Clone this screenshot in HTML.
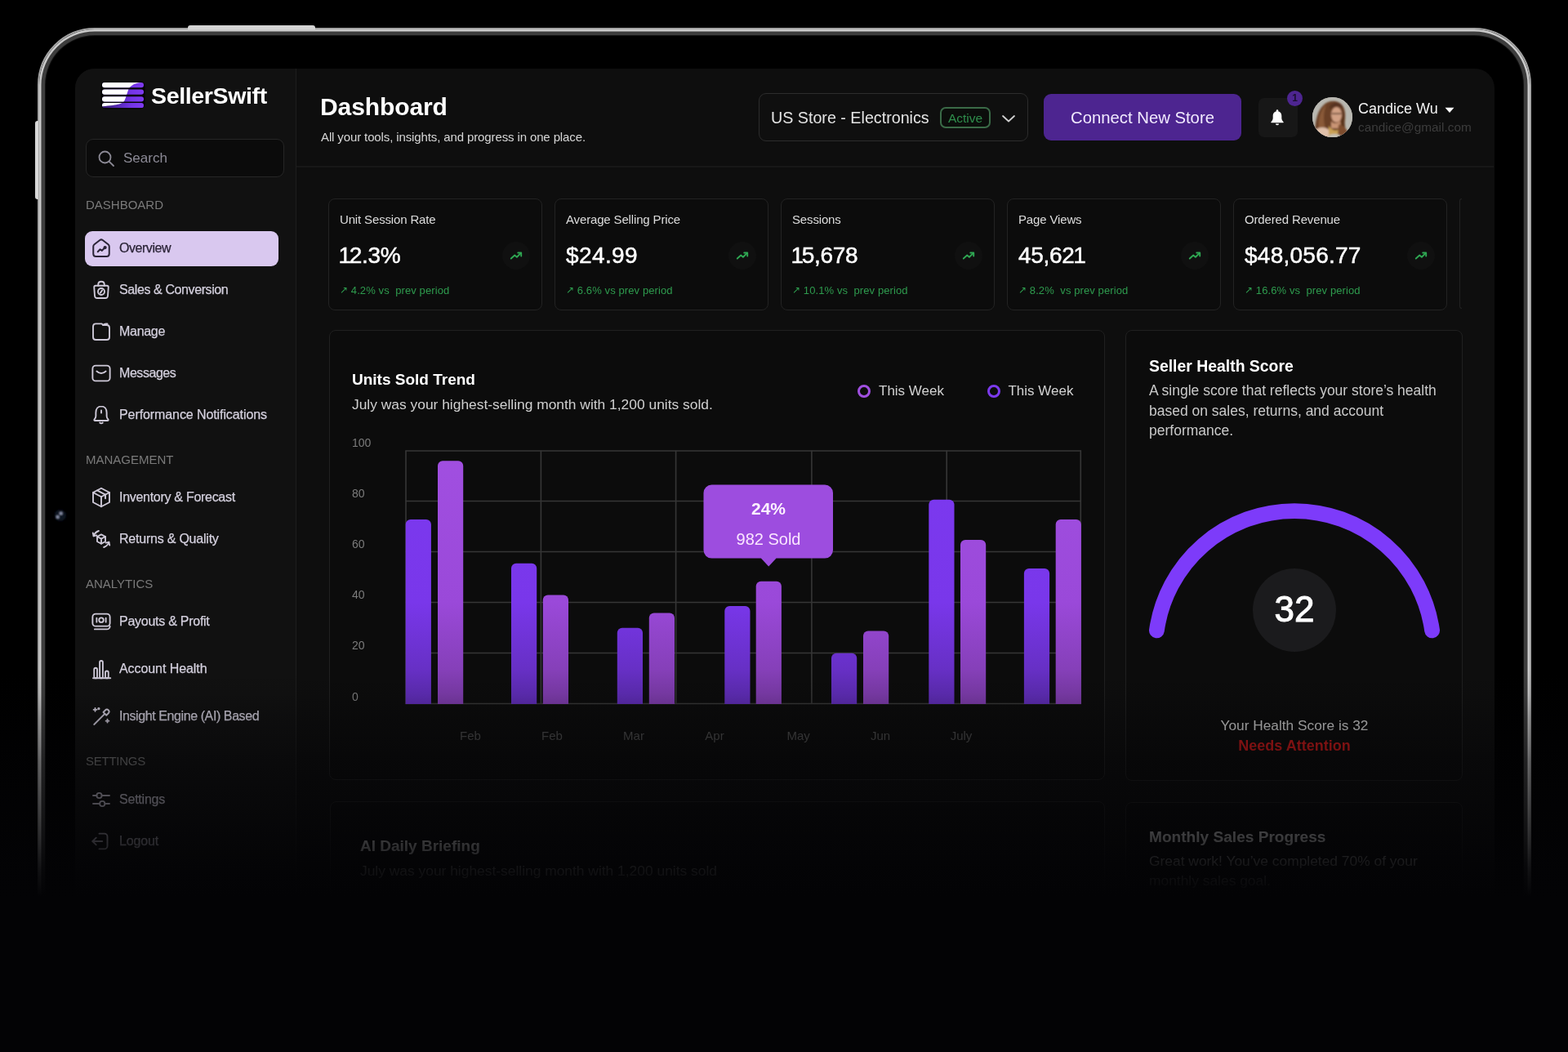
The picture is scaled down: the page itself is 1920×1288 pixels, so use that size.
<!DOCTYPE html>
<html>
<head>
<meta charset="utf-8">
<style>
*{box-sizing:border-box;margin:0;padding:0}
html,body{width:1920px;height:1288px;background:#000;overflow:hidden}
body{position:relative;font-family:"Liberation Sans",Arial,sans-serif;color:#fff}
.abs{position:absolute}
.frame{position:absolute;left:46px;top:34px;width:1829px;height:1240px;border-radius:70px;border:2px solid #a4a4a4;background:#000;box-shadow:inset 0 0 0 2.5px #cbcbcb,inset 0 0 0 7px #3d3d3d,inset 0 0 1px 8px #151515}
.btn-top{position:absolute;left:230px;top:31px;width:156px;height:5px;border-radius:3px 3px 0 0;background:#d4d4d4}
.btn-side{position:absolute;left:43px;top:148px;width:4px;height:96px;border-radius:3px 0 0 3px;background:#d8d8d8}
.screen{position:absolute;left:92px;top:84px;width:1738px;height:1120px;border-radius:24px;background:#0e0e0e;overflow:hidden}
.side{position:absolute;left:0;top:0;width:271px;height:100%;background:#111;border-right:1.5px solid #1d1d1d}
.fade{position:absolute;left:0;top:0;width:1920px;height:1288px;background:linear-gradient(180deg,rgba(3,3,5,0) 0px,rgba(3,3,5,0) 820px,rgba(3,3,5,0.08) 850px,rgba(3,3,5,0.25) 880px,rgba(3,3,5,0.39) 913px,rgba(3,3,5,0.49) 932px,rgba(3,3,5,0.64) 980px,rgba(3,3,5,0.8) 1030px,rgba(3,3,5,0.875) 1050px,rgba(3,3,5,0.925) 1065px,rgba(3,3,5,0.97) 1085px,rgba(3,3,5,1) 1098px,rgba(3,3,5,1) 1288px)}
.logo{position:absolute;left:125px;top:101px;width:51px;height:31px}
.brand{position:absolute;left:185px;top:100px;font-size:28.5px;font-weight:700;line-height:34px;letter-spacing:-0.35px;color:#fff}
.search{position:absolute;left:105px;top:170px;width:243px;height:47px;border:1.5px solid #262626;border-radius:9px;background:#0b0b0b}
.search svg{position:absolute;left:12px;top:11px}
.search span{position:absolute;left:45px;top:12.2px;font-size:17px;line-height:22px;color:#8c8a96}
.sec{position:absolute;left:105px;margin-top:0.8px;font-size:15px;line-height:18px;color:#7a7a7a;letter-spacing:0}
.nav{position:absolute;left:104px;width:237px;height:43px;border-radius:9px}
.nav.act{background:#d9c8ef}
.nav svg{position:absolute;left:5px;top:6.5px;width:30px;height:30px}
.nav span{position:absolute;left:42px;top:11.5px;font-size:16px;line-height:20px;color:#d4d0de;white-space:nowrap;-webkit-text-stroke:0.25px #d4d0de}
.nav.act span{color:#2a2336;-webkit-text-stroke:0.25px #2a2336}
.hline{position:absolute;left:363px;top:203px;width:1466px;height:1.5px;background:#171717}
.h1{position:absolute;left:392px;top:113px;font-size:30px;font-weight:700;line-height:36px;letter-spacing:-0.1px;color:#fff}
.h1sub{position:absolute;left:393px;top:157.7px;font-size:15px;line-height:20px;color:#d6d6d6;letter-spacing:-0.12px}
.store{position:absolute;left:929px;top:114px;width:330px;height:59px;border:1.5px solid #2c2c2c;border-radius:9px;background:#0f0f0f}
.store .t{position:absolute;left:14px;top:17px;font-size:19.7px;line-height:24px;color:#e4e4e4}
.badge{position:absolute;left:221px;top:15.5px;width:62px;height:26.5px;border:2px solid #3a6a47;border-radius:7px;background:#0b0d0b;color:#2f8e4c;font-size:15.5px;line-height:23px;text-align:center}
.store svg{position:absolute;left:295px;top:20px}
.cta{position:absolute;left:1278px;top:115px;width:242px;height:57px;border-radius:9px;background:#4d2590;color:#f1eaff;font-size:20.3px;line-height:59px;text-align:center}
.bellbox{position:absolute;left:1540.5px;top:119.5px;width:48px;height:48px;border-radius:7px;background:#171717}
.bellbox svg{position:absolute;left:12px;top:12px}
.bdg{position:absolute;left:1576px;top:111px;width:19px;height:19px;border-radius:50%;background:#4d2590;color:#1a0f2e;font-size:12px;font-weight:700;line-height:19px;text-align:center}
.avatar{position:absolute;left:1607px;top:119px;width:49px;height:49px;border-radius:50%;overflow:hidden;background:#b8b4ae}
.uname{position:absolute;left:1663px;top:120.5px;font-size:18px;line-height:24px;color:#f2f2f2}
.uname svg{position:absolute;left:106px;top:10px}
.umail{position:absolute;left:1663px;top:146.5px;font-size:15.4px;line-height:18px;color:#3c3c3c}
.kpi{position:absolute;top:243px;width:262px;height:136.5px;border:1.5px solid #232323;border-radius:8px;background:#0c0c0c}
.kpi .k1{position:absolute;left:13px;top:15.5px;letter-spacing:-0.15px;font-size:15px;line-height:18px;color:#dcdcdc;white-space:nowrap}
.kpi .k2{position:absolute;left:13px;top:53.4px;font-size:28px;line-height:32px;color:#fff;white-space:nowrap;-webkit-text-stroke:0.5px #fff;letter-spacing:-0.3px}
.kpi .k3{position:absolute;left:13px;top:102.5px;letter-spacing:0.1px;font-size:13px;line-height:18px;color:#2e9b4e;white-space:nowrap}
.kpi .ti{position:absolute;left:212px;top:52px;width:34px;height:34px;border-radius:50%;background:#101010}
.kpi .ti svg{position:absolute;left:9px;top:9px}
.card{position:absolute;border:1.5px solid #202020;border-radius:8px;background:#0c0c0c}
.one{display:inline-block;margin:0 -2.2px 0 -1.4px}
.ct{position:absolute;font-size:19px;font-weight:700;line-height:24px;color:#fff;white-space:nowrap}
.cs{position:absolute;font-size:17.4px;line-height:22px;color:#d0d0d0;white-space:nowrap}
.lg{position:absolute;top:467.8px;font-size:17px;line-height:22px;color:#d2d2d2}
.ring{position:absolute;width:16px;height:16px;border-radius:50%;border:3.6px solid #a04fe0;top:470.8px}
.yl{position:absolute;left:431px;font-size:14px;line-height:18px;color:#7c7c7c}
.xl{position:absolute;top:891px;font-size:15px;line-height:20px;color:#4c4c4c;width:60px;text-align:center}
</style>
</head>
<body>
<div class="frame"></div>
<div class="btn-top"></div>
<div class="btn-side"></div>
<svg class="abs" style="left:60px;top:617px" width="28" height="28" viewBox="0 0 28 28"><defs><filter id="cb" x="-50%" y="-50%" width="200%" height="200%"><feGaussianBlur stdDeviation="0.8"/></filter></defs><g filter="url(#cb)"><circle cx="13.8" cy="14" r="7" fill="#0d1322"/><circle cx="14.6" cy="11.6" r="1.7" fill="#a3abc6"/><circle cx="10.6" cy="16" r="1.7" fill="#a3abc6"/></g></svg>
<div class="screen"><div class="side"></div></div>
<svg class="logo" viewBox="-2 -2 55 35" style="left:123px;top:99px;width:55px;height:35px">
 <defs><clipPath id="lc"><rect x="0" y="0" width="51" height="6.2" rx="3"/><rect x="0" y="8.4" width="51" height="6.4" rx="3"/><rect x="0" y="17.2" width="51" height="6.2" rx="3"/><rect x="0" y="25" width="51" height="6.2" rx="3"/></clipPath>
 <linearGradient id="lg" x1="0" y1="0" x2="1" y2="0"><stop offset="0" stop-color="#341a70"/><stop offset=".45" stop-color="#5b2ac0"/><stop offset=".7" stop-color="#7434e6"/><stop offset="1" stop-color="#7f3bf2"/></linearGradient></defs>
 <rect x="-1.5" y="-1.5" width="54" height="34" rx="6" fill="#050505"/>
 <g clip-path="url(#lc)"><rect width="51" height="31.2" fill="url(#lg)"/>
 <path d="M0 0 H48 C41 0.5 35.5 3 32.5 8 C30.5 13 29.5 18 27.5 22 C25.5 26 21 27.5 0 29.2 Z" fill="#fff"/></g>
</svg>
<div class="brand">SellerSwift</div>
<div class="search"><svg width="24" height="24" viewBox="0 0 24 24" fill="none" stroke="#8c8a96" stroke-width="1.8" stroke-linecap="round"><circle cx="10.5" cy="10.5" r="7"/><path d="M15.8 15.8 L21 21"/></svg><span>Search</span></div>
<div class="sec" style="top:241px">DASHBOARD</div>
<div class="nav act" style="top:282.5px"><svg viewBox="0 0 24 24" fill="none" stroke="#2a2336" stroke-width="1.6" stroke-linecap="round" stroke-linejoin="round"><path d="M4.2 10.2 Q4.2 9 5.2 8.2 L10.6 4 Q12 3 13.4 4 L18.8 8.2 Q19.8 9 19.8 10.2 V17.4 Q19.8 20 17.2 20 H6.8 Q4.2 20 4.2 17.4 Z"/><path d="M8.6 15.4 L10.9 13 L12.7 14.3 L15 11.8"/><circle cx="15.7" cy="11.2" r="0.9" fill="#2a2336"/></svg><span style="letter-spacing:-0.45px">Overview</span></div>
<div class="nav" style="top:333.5px"><svg viewBox="0 0 24 24" fill="none" stroke="#cfcad9" stroke-width="1.5" stroke-linecap="round" stroke-linejoin="round"><path d="M5 9.3 Q5 7.8 6.5 7.8 H17.5 Q19 7.8 19 9.3 L18.4 17.8 Q18.2 20 16 20 H8 Q5.8 20 5.6 17.8 Z"/><path d="M9 7.8 V6.6 Q9 3.8 12 3.8 Q15 3.8 15 6.6 V7.8"/><circle cx="12" cy="13.6" r="3.2"/><path d="M12.9 12.3 L11.1 14.9"/></svg><span style="letter-spacing:-0.4px">Sales &amp; Conversion</span></div>
<div class="nav" style="top:384.5px"><svg viewBox="0 0 24 24" fill="none" stroke="#cfcad9" stroke-width="1.5" stroke-linecap="round" stroke-linejoin="round"><path d="M4 7 Q4 4.3 6.7 4.3 H12.5 L13.8 5.6 H17.3 Q20 5.6 20 8.3 V17.3 Q20 20 17.3 20 H6.7 Q4 20 4 17.3 Z"/><path d="M13.8 5.6 Q15 4.3 16.5 4.3 H18"/></svg><span style="letter-spacing:-0.3px">Manage</span></div>
<div class="nav" style="top:435.5px"><svg viewBox="0 0 24 24" fill="none" stroke="#cfcad9" stroke-width="1.5" stroke-linecap="round" stroke-linejoin="round"><rect x="3.5" y="4.5" width="17" height="15" rx="3"/><path d="M7.5 10 q4.5 4 9 0"/></svg><span style="letter-spacing:-0.45px">Messages</span></div>
<div class="nav" style="top:486.5px"><svg viewBox="0 0 24 24" fill="none" stroke="#cfcad9" stroke-width="1.5" stroke-linecap="round" stroke-linejoin="round"><path d="M12 3.5 C8.7 3.5 6.7 6.3 6.7 9.8 V13.2 Q6.7 14.8 5.3 16.3 Q4.6 17.6 6 17.6 H18 Q19.4 17.6 18.7 16.3 Q17.3 14.8 17.3 13.2 V9.8 C17.3 6.3 15.3 3.5 12 3.5 Z"/><path d="M10.6 19.6 Q12 21 13.4 19.6"/><path d="M12 7.5 V10"/></svg><span style="letter-spacing:-0.09px">Performance Notifications</span></div>
<div class="sec" style="top:553px">MANAGEMENT</div>
<div class="nav" style="top:587.5px"><svg viewBox="0 0 24 24" fill="none" stroke="#cfcad9" stroke-width="1.5" stroke-linecap="round" stroke-linejoin="round"><path d="M12 3 L20 7.2 V16.8 L12 21 L4 16.8 V7.2 Z"/><path d="M4 7.2 L12 11.4 L20 7.2"/><path d="M12 11.4 V21"/><path d="M8 5.1 L16 9.3 V13"/></svg><span style="letter-spacing:-0.29px">Inventory &amp; Forecast</span></div>
<div class="nav" style="top:638.5px"><svg viewBox="0 0 24 24" fill="none" stroke="#cfcad9" stroke-width="1.5" stroke-linecap="round" stroke-linejoin="round"><path d="M12 7.5 L16 9.6 V14.4 L12 16.5 L8 14.4 V9.6 Z"/><path d="M8 9.6 L12 11.7 L16 9.6 M12 11.7 V16.5"/><path d="M4.5 9 a8 8 0 0 1 5-5"/><path d="M19.5 15 a8 8 0 0 1 -5 5"/><path d="M3.8 6 l0.7 3 3-0.7"/><path d="M20.2 18 l-0.7-3 -3 0.7"/></svg><span style="letter-spacing:-0.22px">Returns &amp; Quality</span></div>
<div class="sec" style="top:705px">ANALYTICS</div>
<div class="nav" style="top:739.5px"><svg viewBox="0 0 24 24" fill="none" stroke="#cfcad9" stroke-width="1.5" stroke-linecap="round" stroke-linejoin="round"><rect x="3.5" y="4.5" width="17" height="12" rx="3"/><path d="M5.5 19.5 h12 a3 3 0 0 0 3-3"/><circle cx="12" cy="10.5" r="2.2"/><path d="M7.5 8.5 v4 M16.5 8.5 v4"/></svg><span style="letter-spacing:-0.26px">Payouts &amp; Profit</span></div>
<div class="nav" style="top:797.5px"><svg viewBox="0 0 24 24" fill="none" stroke="#cfcad9" stroke-width="1.5" stroke-linecap="round" stroke-linejoin="round"><path d="M4 21 h17"/><rect x="5" y="11" width="3" height="10" rx="1.5"/><rect x="10.5" y="4" width="3" height="17" rx="1.5"/><rect x="16" y="14" width="3" height="7" rx="1.5"/></svg><span style="letter-spacing:-0.07px">Account Health</span></div>
<div class="nav" style="top:855.5px"><svg viewBox="0 0 24 24" fill="none" stroke="#cfcad9" stroke-width="1.5" stroke-linecap="round" stroke-linejoin="round"><path d="M5 20 L15.5 9.5"/><path d="M14 8 l3 3 2-2 a1.5 1.5 0 0 0 -3-3 Z"/><path d="M6 4 v3 M4.5 5.5 h3"/><path d="M18 15 v3 M16.5 16.5 h3"/><circle cx="9.5" cy="4.5" r="0.6"/></svg><span style="letter-spacing:-0.41px">Insight Engine (AI) Based</span></div>
<div class="sec" style="top:922px;letter-spacing:-0.25px">SETTINGS</div>
<div class="nav" style="top:957.5px"><svg viewBox="0 0 24 24" fill="none" stroke="#cfcad9" stroke-width="1.5" stroke-linecap="round" stroke-linejoin="round"><path d="M4 8 h3.5 M12.5 8 H20"/><circle cx="10" cy="8" r="2.5"/><path d="M4 16 h6.5 M15.5 16 H20"/><circle cx="13" cy="16" r="2.5"/></svg><span style="letter-spacing:-0.22px">Settings</span></div>
<div class="nav" style="top:1008.5px"><svg viewBox="0 0 24 24" fill="none" stroke="#cfcad9" stroke-width="1.5" stroke-linecap="round" stroke-linejoin="round"><path d="M10 4.5 h5 a3 3 0 0 1 3 3 v9 a3 3 0 0 1 -3 3 h-5"/><path d="M3.5 12 H13"/><path d="M7 8.5 L3.5 12 L7 15.5"/></svg><span style="letter-spacing:-0.15px">Logout</span></div>
<div class="hline"></div>
<div class="h1">Dashboard</div>
<div class="h1sub">All your tools, insights, and progress in one place.</div>
<div class="store"><div class="t">US Store - Electronics</div><div class="badge">Active</div>
<svg width="20" height="20" viewBox="0 0 20 20" fill="none" stroke="#cfcfcf" stroke-width="1.8" stroke-linecap="round" stroke-linejoin="round"><path d="M3 7 L10 13.5 L17 7"/></svg></div>
<div class="cta">Connect New Store</div>
<div class="bellbox"><svg width="24" height="24" viewBox="0 0 24 24" style="left:11.2px"><circle cx="12" cy="3.6" r="1.3" fill="#fff"/><path d="M12 4.3 C8.4 4.3 6.7 6.9 6.7 10 V12.6 C6.7 14.6 5.5 16.2 4.3 17.6 Q4 18.3 4.8 18.3 H19.2 Q20 18.3 19.7 17.6 C18.5 16.2 17.3 14.6 17.3 12.6 V10 C17.3 6.9 15.6 4.3 12 4.3 Z" fill="#fff"/><path d="M10 19.4 a2 1.9 0 0 0 4 0 Z" fill="#fff"/></svg></div>
<div class="bdg">1</div>
<div class="avatar"><svg width="49" height="49" viewBox="0 0 49 49">
<defs><filter id="bl" x="-20%" y="-20%" width="140%" height="140%"><feGaussianBlur stdDeviation="1.2"/></filter></defs>
<rect width="49" height="49" fill="#b9b8b1"/>
<g filter="url(#bl)">
<path d="M4 49 C2 32 6 12 19 6 C30 2 39 8 40 19 C41 27 38 33 41 39 L45 49 Z" fill="#6a4026"/>
<path d="M8 42 C6 28 10 15 17 9 C13 20 13 30 17 42 Z" fill="#8a5a38"/>
<path d="M36 14 C40 20 38 30 40 36 L35 34 Z" fill="#5a341e"/>
<ellipse cx="29.5" cy="21.5" rx="6.5" ry="9.5" fill="#d2a084"/>
<path d="M22 15 C24 10 33 9 37 14 L37 11 C33 5 24 6 21 12 Z" fill="#553320"/>
<rect x="23.5" y="19.5" width="12" height="1.6" rx="0.8" fill="#5a3c2c"/>
<path d="M23 29 C25 33 31 33 34 29 L35 38 L23 38 Z" fill="#c99474"/>
<ellipse cx="12" cy="44" rx="10" ry="7" fill="#e0c0aa"/>
<path d="M20 35 C24 41 30 43 34 37 L33 49 L20 49 Z" fill="#c9a055"/>
<path d="M32 33 C38 35 44 40 46 49 L31 49 Z" fill="#7e4e2e"/>
<ellipse cx="27" cy="47.5" rx="7" ry="2.5" fill="#c4c0b4"/>
</g>
</svg></div>
<div class="uname">Candice Wu<svg width="12" height="8" viewBox="0 0 12 8"><path d="M0.5 0.8 H11.5 L6 7 Z" fill="#fff"/></svg></div>
<div class="umail">candice@gmail.com</div>
<div class="kpi" style="left:402px"><div class="k1">Unit Session Rate</div><div class="k2"><span class="one">1</span>2.3%</div><div class="k3"><span style="font-size:12px;position:relative;top:-1px">&#8599;</span> 4.2% vs&nbsp; prev period</div><div class="ti"><svg width="16" height="16" viewBox="0 0 18 18" fill="none" stroke="#2fa853" stroke-width="2.1" stroke-linecap="round" stroke-linejoin="round"><path d="M2 13 L7 8.5 L10 11 L15.5 5.5"/><path d="M11.5 5 H16 V9.5"/></svg></div></div>
<div class="kpi" style="left:679px"><div class="k1">Average Selling Price</div><div class="k2"><span style="letter-spacing:0.4px">$24.99</span></div><div class="k3"><span style="font-size:12px;position:relative;top:-1px">&#8599;</span> 6.6% vs prev period</div><div class="ti"><svg width="16" height="16" viewBox="0 0 18 18" fill="none" stroke="#2fa853" stroke-width="2.1" stroke-linecap="round" stroke-linejoin="round"><path d="M2 13 L7 8.5 L10 11 L15.5 5.5"/><path d="M11.5 5 H16 V9.5"/></svg></div></div>
<div class="kpi" style="left:956px"><div class="k1">Sessions</div><div class="k2"><span class="one">1</span>5,678</div><div class="k3"><span style="font-size:12px;position:relative;top:-1px">&#8599;</span> 10.1% vs&nbsp; prev period</div><div class="ti"><svg width="16" height="16" viewBox="0 0 18 18" fill="none" stroke="#2fa853" stroke-width="2.1" stroke-linecap="round" stroke-linejoin="round"><path d="M2 13 L7 8.5 L10 11 L15.5 5.5"/><path d="M11.5 5 H16 V9.5"/></svg></div></div>
<div class="kpi" style="left:1233px"><div class="k1">Page Views</div><div class="k2">45,62<span class="one">1</span></div><div class="k3"><span style="font-size:12px;position:relative;top:-1px">&#8599;</span> 8.2% &nbsp;vs prev period</div><div class="ti"><svg width="16" height="16" viewBox="0 0 18 18" fill="none" stroke="#2fa853" stroke-width="2.1" stroke-linecap="round" stroke-linejoin="round"><path d="M2 13 L7 8.5 L10 11 L15.5 5.5"/><path d="M11.5 5 H16 V9.5"/></svg></div></div>
<div class="kpi" style="left:1510px"><div class="k1">Ordered Revenue</div><div class="k2"><span style="letter-spacing:0.25px">$48,056.77</span></div><div class="k3"><span style="font-size:12px;position:relative;top:-1px">&#8599;</span> 16.6% vs&nbsp; prev period</div><div class="ti"><svg width="16" height="16" viewBox="0 0 18 18" fill="none" stroke="#2fa853" stroke-width="2.1" stroke-linecap="round" stroke-linejoin="round"><path d="M2 13 L7 8.5 L10 11 L15.5 5.5"/><path d="M11.5 5 H16 V9.5"/></svg></div></div>
<div style="position:absolute;left:1787px;top:243px;width:3px;height:135px;border:1.5px solid #222;border-right:none;border-radius:10px 0 0 10px"></div>
<div class="card" style="left:403px;top:404px;width:950px;height:551px"></div>
<div class="card" style="left:1378px;top:404px;width:413px;height:552px"></div>
<div class="card" style="left:404px;top:981px;width:949px;height:200px"></div>
<div class="card" style="left:1378px;top:982px;width:413px;height:200px"></div>
<svg class="abs" style="left:0;top:0" width="1920" height="1288" viewBox="0 0 1920 1288">
<defs><linearGradient id="ga" x1="0" y1="552" x2="0" y2="862" gradientUnits="userSpaceOnUse"><stop offset="0" stop-color="#7c39f0"/><stop offset="0.6" stop-color="#7937ea"/><stop offset="1" stop-color="#5d2cb2"/></linearGradient>
<linearGradient id="gb" x1="0" y1="552" x2="0" y2="862" gradientUnits="userSpaceOnUse"><stop offset="0" stop-color="#a14fe1"/><stop offset="0.6" stop-color="#9a49d9"/><stop offset="1" stop-color="#7b3ba8"/></linearGradient></defs>
<line x1="496.5" y1="552" x2="1324" y2="552" stroke="#363636" stroke-width="1.6"/>
<line x1="496.5" y1="613.5" x2="1324" y2="613.5" stroke="#363636" stroke-width="1.6"/>
<line x1="496.5" y1="675.5" x2="1324" y2="675.5" stroke="#363636" stroke-width="1.6"/>
<line x1="496.5" y1="737.5" x2="1324" y2="737.5" stroke="#363636" stroke-width="1.6"/>
<line x1="496.5" y1="799.5" x2="1324" y2="799.5" stroke="#363636" stroke-width="1.6"/>
<line x1="496.5" y1="861.5" x2="1324" y2="861.5" stroke="#363636" stroke-width="1.6"/>
<line x1="497" y1="551.5" x2="497" y2="862" stroke="#363636" stroke-width="1.6"/>
<line x1="662.4" y1="551.5" x2="662.4" y2="862" stroke="#363636" stroke-width="1.6"/>
<line x1="827.6" y1="551.5" x2="827.6" y2="862" stroke="#363636" stroke-width="1.6"/>
<line x1="993.9" y1="551.5" x2="993.9" y2="862" stroke="#363636" stroke-width="1.6"/>
<line x1="1159.2" y1="551.5" x2="1159.2" y2="862" stroke="#363636" stroke-width="1.6"/>
<line x1="1323.3" y1="551.5" x2="1323.3" y2="862" stroke="#363636" stroke-width="1.6"/>
<path d="M496.7 862 V642 a6 6 0 0 1 6 -6 H521.9 a6 6 0 0 1 6 6 V862 Z" fill="url(#ga)"/>
<path d="M536 862 V570.2 a6 6 0 0 1 6 -6 H561.2 a6 6 0 0 1 6 6 V862 Z" fill="url(#gb)"/>
<path d="M626 862 V695.7 a6 6 0 0 1 6 -6 H651.2 a6 6 0 0 1 6 6 V862 Z" fill="url(#ga)"/>
<path d="M664.8 862 V734.5 a6 6 0 0 1 6 -6 H690.0 a6 6 0 0 1 6 6 V862 Z" fill="url(#gb)"/>
<path d="M755.8 862 V774.8 a6 6 0 0 1 6 -6 H781.0 a6 6 0 0 1 6 6 V862 Z" fill="url(#ga)"/>
<path d="M794.8 862 V756.6 a6 6 0 0 1 6 -6 H820.0 a6 6 0 0 1 6 6 V862 Z" fill="url(#gb)"/>
<path d="M887.3 862 V748 a6 6 0 0 1 6 -6 H912.5 a6 6 0 0 1 6 6 V862 Z" fill="url(#ga)"/>
<path d="M925.7 862 V717.7 a6 6 0 0 1 6 -6 H950.9 a6 6 0 0 1 6 6 V862 Z" fill="url(#gb)"/>
<path d="M1018 862 V805.7 a6 6 0 0 1 6 -6 H1043.2 a6 6 0 0 1 6 6 V862 Z" fill="url(#ga)"/>
<path d="M1057 862 V778.4 a6 6 0 0 1 6 -6 H1082.2 a6 6 0 0 1 6 6 V862 Z" fill="url(#gb)"/>
<path d="M1137.3 862 V617.8 a6 6 0 0 1 6 -6 H1162.5 a6 6 0 0 1 6 6 V862 Z" fill="url(#ga)"/>
<path d="M1176 862 V667 a6 6 0 0 1 6 -6 H1201.2 a6 6 0 0 1 6 6 V862 Z" fill="url(#gb)"/>
<path d="M1253.9 862 V702 a6 6 0 0 1 6 -6 H1279.1 a6 6 0 0 1 6 6 V862 Z" fill="url(#ga)"/>
<path d="M1292.7 862 V642 a6 6 0 0 1 6 -6 H1317.9 a6 6 0 0 1 6 6 V862 Z" fill="url(#gb)"/>
<path d="M871.5 593.6 H1010 a10 10 0 0 1 10 10 V673.6 a10 10 0 0 1 -10 10 H950.5 L941.2 693.6 L931.9 683.6 H871.5 a10 10 0 0 1 -10 -10 V603.6 a10 10 0 0 1 10 -10 Z" fill="#9d4ddf"/>
<path d="M1416.4 771.9 A170.3 170.3 0 0 1 1753.6 771.9" fill="none" stroke="#7d3bfa" stroke-width="18.8" stroke-linecap="round"/>
<circle cx="1585" cy="747" r="51" fill="#1b1b1d"/>
</svg>
<div class="ct" style="left:431px;top:453px">Units Sold Trend</div>
<div class="cs" style="left:431px;top:484px">July was your highest-selling month with 1,200 units sold.</div>
<div class="ring" style="left:1050.3px"></div><div class="lg" style="left:1076px">This Week</div>
<div class="ring" style="left:1208.7px;border-color:#7c3aed"></div><div class="lg" style="left:1234.4px">This Week</div>
<div class="yl" style="top:533.3px">100</div>
<div class="yl" style="top:595px">80</div>
<div class="yl" style="top:657px">60</div>
<div class="yl" style="top:719px">40</div>
<div class="yl" style="top:781px">20</div>
<div class="yl" style="top:843.7px">0</div>
<div class="xl" style="left:546px">Feb</div><div class="xl" style="left:646px">Feb</div><div class="xl" style="left:746px">Mar</div><div class="xl" style="left:845px">Apr</div><div class="xl" style="left:947.6px">May</div><div class="xl" style="left:1048px">Jun</div><div class="xl" style="left:1147px">July</div>
<div style="position:absolute;left:861.5px;top:608.5px;width:159px;text-align:center;font-size:21px;font-weight:700;line-height:28px;color:#fdf0ff">24%</div>
<div style="position:absolute;left:861.5px;top:645.5px;width:159px;text-align:center;font-size:20px;line-height:28px;color:#fbe6ff">982 Sold</div>
<div class="ct" style="left:1407px;top:436px;font-size:19.4px">Seller Health Score</div>
<div class="cs" style="left:1407px;top:466.3px;font-size:17.5px;line-height:24.5px;color:#cacaca;white-space:normal;width:370px">A single score that reflects your store’s health based on sales, returns, and account performance.</div>
<div style="position:absolute;left:1535px;top:721px;width:100px;text-align:center;font-size:44px;line-height:50px;color:#fff;-webkit-text-stroke:1px #fff">32</div>
<div style="position:absolute;left:1435px;top:876.5px;width:300px;text-align:center;font-size:17.3px;line-height:22px;color:#d0d0d0">Your Health Score is 32</div>
<div style="position:absolute;left:1435px;top:902.3px;width:300px;text-align:center;font-size:18px;font-weight:700;line-height:22px;color:#c81a1a">Needs Attention</div>
<div class="ct" style="left:441px;top:1023.7px;font-size:19px">AI Daily Briefing</div>
<div class="cs" style="left:441px;top:1054.5px;font-size:17.4px">July was your highest-selling month with 1,200 units sold</div>
<div class="ct" style="left:1407px;top:1012.5px;font-size:19.1px">Monthly Sales Progress</div>
<div class="cs" style="left:1407px;top:1043px;font-size:17.4px;line-height:23.7px;white-space:normal;width:360px">Great work! You’ve completed 70% of your monthly sales goal.</div>
<div class="fade"></div>
</body>
</html>
